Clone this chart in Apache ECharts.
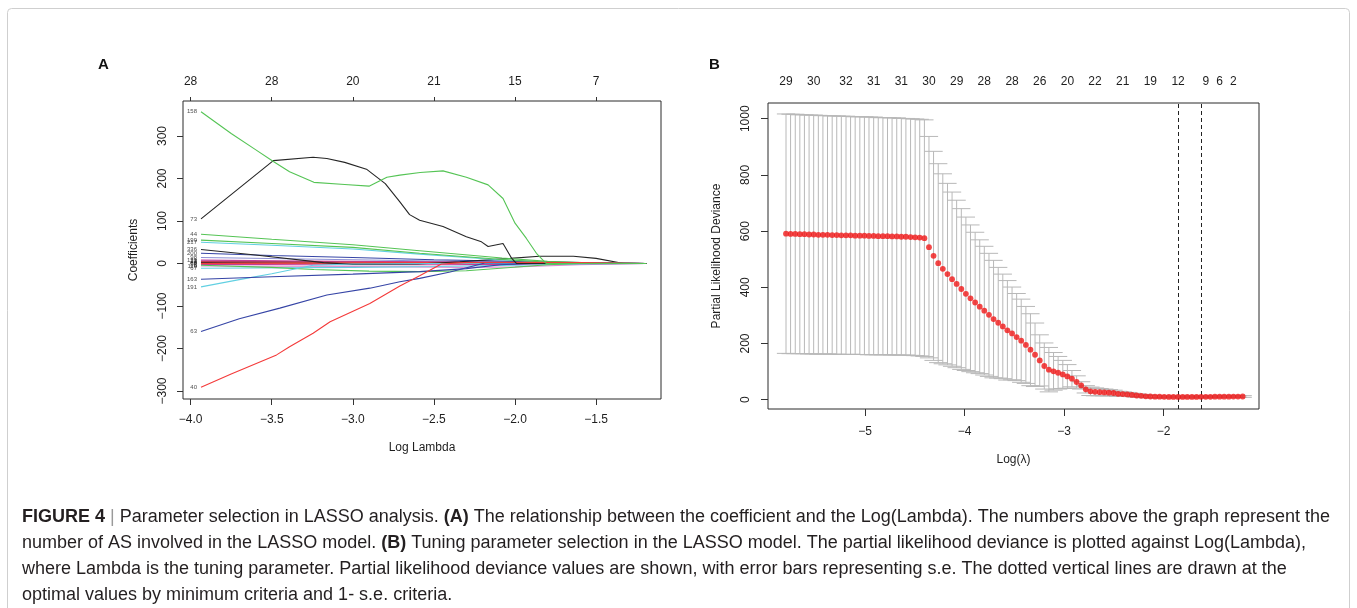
<!DOCTYPE html>
<html>
<head>
<meta charset="utf-8">
<script src="https://cdn.jsdelivr.net/npm/echarts@6/dist/echarts.min.js"></script>
<style>
html,body{margin:0;padding:0;background:#fff}
#chart{width:1357px;height:608px}
</style>
</head>
<body>
<div id="chart"></div>
<script>
// ---------- Panel A: LASSO coefficient paths vs log(lambda) ----------
const xTicksA = [-4, -3.5, -3, -2.5, -2, -1.5];
const yTicksA = [-300, -200, -100, 0, 100, 200, 300];
const dfTicksA = [-4, -3.5, -3, -2.5, -2, -1.5];
const dfLabelsA = ['28', '28', '20', '21', '15', '7'];

// coefficient paths, [log lambda, coefficient]
const coef158 = [[-3.936,357],[-3.75,306],[-3.6,268],[-3.49,240],[-3.39,216],[-3.24,191],[-3.05,186],[-2.9,182],[-2.79,203],[-2.71,208],[-2.585,214],[-2.444,218],[-2.3,203],[-2.166,185],[-2.074,153],[-2.0,95],[-1.93,59],[-1.868,24],[-1.807,0],[-1.19,0]];
const coef73 = [[-3.936,105],[-3.49,242],[-3.245,250],[-3.16,247],[-3.05,238],[-2.916,222],[-2.8,188],[-2.71,145],[-2.65,115],[-2.588,102],[-2.444,87],[-2.30,63],[-2.207,51],[-2.166,40],[-2.074,47],[-2.02,12],[-1.99,0],[-1.19,0]];
const coef40 = [[-3.936,-291],[-3.75,-260],[-3.47,-215],[-3.39,-196],[-3.245,-164],[-3.14,-137],[-2.895,-94],[-2.71,-53],[-2.588,-29],[-2.454,-1],[-2.3,2],[-2.0,3],[-1.6,2],[-1.19,0]];
const coef63 = [[-3.936,-160],[-3.7,-130],[-3.45,-105],[-3.16,-74],[-2.895,-58],[-2.71,-43],[-2.588,-35],[-2.4,-20],[-2.18,2],[-1.6,1],[-1.19,0]];
const coef163 = [[-3.936,-37],[-3.5,-31],[-3.0,-25],[-2.588,-19],[-2.3,-12],[-2.09,-3],[-1.9,0],[-1.19,0]];
const coef191 = [[-3.936,-55],[-3.7,-38],[-3.5,-24],[-3.245,-4],[-3.0,-1],[-2.5,0],[-1.19,0]];
const coef44 = [[-3.936,69],[-3.5,57],[-3.0,44],[-2.588,30],[-2.08,13],[-1.8,5],[-1.5,1],[-1.19,0]];
const coef199 = [[-3.936,55],[-3.5,47],[-3.0,38],[-2.588,24],[-2.1,10],[-1.8,3],[-1.19,0]];
const coef217 = [[-3.936,50],[-3.5,43],[-3.0,34],[-2.588,22],[-2.1,9],[-1.7,2],[-1.19,0]];
const coef336 = [[-3.936,33],[-3.6,20],[-3.18,2],[-3.0,-2],[-2.6,-1],[-2.34,4],[-2.03,12],[-1.85,17],[-1.64,17],[-1.5,12],[-1.33,0],[-1.19,0]];
const coef200 = [[-3.936,24],[-3.5,19],[-3.0,14],[-2.5,9],[-2.0,5],[-1.6,2],[-1.19,0]];
const coef98 = [[-3.936,14],[-3.0,9],[-2.5,6],[-2.0,3],[-1.5,1],[-1.19,0]];
const coef121 = [[-3.936,8],[-3.3,6],[-2.6,4],[-2.0,2],[-1.5,1],[-1.19,0]];
const coef27 = [[-3.936,5],[-3.0,4],[-2.0,2],[-1.19,0]];
const coef12 = [[-3.936,4],[-3.0,3],[-2.2,2],[-1.5,1],[-1.19,0]];
const coef9 = [[-3.936,2],[-3.0,1],[-2.0,1],[-1.19,0]];
const coef88 = [[-3.936,0],[-3.0,1],[-2.4,2],[-1.8,1],[-1.19,0]];
const coef52 = [[-3.936,-2],[-3.2,-3],[-2.5,-3],[-2.0,-2],[-1.19,0]];
const coef5 = [[-3.936,-4],[-3.5,-9],[-3.24,-14],[-2.9,-18],[-2.588,-19],[-2.3,-17],[-2.09,-11],[-1.8,-3],[-1.6,0],[-1.19,0]];
const coef110 = [[-3.936,-6],[-3.0,-7],[-2.3,-9],[-2.0,-8],[-1.6,-3],[-1.19,0]];
const coef67 = [[-3.936,-11],[-3.0,-9],[-2.5,-7],[-2.0,-4],[-1.6,-1],[-1.19,0]];

const BLACK = '#262626', RED = '#f43a3a', GREEN = '#55c455', NAVY = '#3645a6',
      CYAN = '#62d0e2', MAGENTA = '#c63a98', LAVENDER = '#8d90d4', PINK = '#e08ad0';

const pathsA = [
  ['98', LAVENDER, coef98], ['27', NAVY, coef27], ['9', BLACK, coef9],
  ['110', PINK, coef110], ['52', MAGENTA, coef52], ['121', MAGENTA, coef121],
  ['88', RED, coef88], ['12', RED, coef12], ['67', CYAN, coef67], ['5', GREEN, coef5],
  ['200', NAVY, coef200], ['336', BLACK, coef336], ['217', CYAN, coef217],
  ['199', GREEN, coef199], ['44', GREEN, coef44], ['191', CYAN, coef191],
  ['163', NAVY, coef163], ['63', NAVY, coef63], ['40', RED, coef40],
  ['73', BLACK, coef73], ['158', GREEN, coef158]
];

// ---------- Panel B: cross-validated partial likelihood deviance ----------
const logLambdaB = [-5.794,-5.748,-5.701,-5.655,-5.609,-5.562,-5.516,-5.469,-5.423,-5.377,
  -5.330,-5.284,-5.238,-5.191,-5.145,-5.099,-5.052,-5.006,-4.960,-4.913,
  -4.867,-4.820,-4.774,-4.728,-4.681,-4.635,-4.589,-4.542,-4.496,-4.450,
  -4.403,-4.357,-4.311,-4.264,-4.218,-4.171,-4.125,-4.079,-4.032,-3.986,
  -3.940,-3.893,-3.847,-3.801,-3.754,-3.708,-3.661,-3.615,-3.569,-3.522,
  -3.476,-3.430,-3.383,-3.337,-3.291,-3.244,-3.198,-3.152,-3.105,-3.059,
  -3.012,-2.966,-2.920,-2.873,-2.827,-2.781,-2.734,-2.688,-2.642,-2.595,
  -2.549,-2.502,-2.456,-2.410,-2.363,-2.317,-2.271,-2.224,-2.178,-2.132,
  -2.085,-2.039,-1.993,-1.946,-1.900,-1.853,-1.807,-1.761,-1.714,-1.668,
  -1.622,-1.575,-1.529,-1.483,-1.436,-1.390,-1.343,-1.297,-1.251,-1.204];
const cvmB = [591,590,590,589,589,588,588,587,587,587,
  586,586,585,585,585,584,584,584,583,583,
  582,582,582,581,581,580,580,579,578,577,
  575,543,512,486,466,447,429,412,394,377,
  361,346,331,317,302,287,274,261,247,236,
  223,210,195,178,160,140,120,107,101,96,
  90,83,75,63,51,37,30,28,27,26,
  25,24,21,20,19,17,15,14,12,11.5,
  11,11,10.5,10,10,9.8,10,10,10,10,
  10.3,10.5,10.5,10.7,11,11,11,11.2,11.3,11.5];
const cvsdB = [426,426,426,425,425,425,425,425,424,424,
  424,424,424,424,423,423,423,423,423,423,
  422,422,422,422,422,421,421,421,421,421,
  421,394,372,354,338,323,310,298,286,273,
  261,250,238,229,219,209,197,186,177,165,
  155,148,137,128,113,91,82,79,67,58,
  50,42,29,22,13,13,15,14,13,12,
  11,10,9,8,7,6,6,5,5,4,
  4,4,3,3,3,3,3,3,3,3,
  3,3,3,3,3,3,3,3,3,3];
const nzIdxB = [0,6,13,19,25,31,37,43,49,55,61,67,73,79,85,91,94,97];
const nzLabelsB = ['29','30','32','31','31','30','29','28','28','26','20','22','21','19','12','9','6','2'];
const lambdaMinB = -1.853;
const lambda1seB = -1.622;
const xTicksB = [-5, -4, -3, -2];
const yTicksB = [0, 200, 400, 600, 800, 1000];
const capWidthB = 0.0918;

// ---------- chart ----------
const FONT = '"Liberation Sans", Arial, Helvetica, sans-serif';
const TXT = '#1e1e1e';
const signed = (v, d) => (v < 0 ? '\u2212' : '') + Math.abs(v).toFixed(d);

const chart = echarts.init(document.getElementById('chart'), null, {renderer: 'canvas'});

function valueAxis(extra) {
  return Object.assign({
    type: 'value', scale: true,
    axisLine: {show: false, onZero: false},
    splitLine: {show: false},
    axisTick: {show: true, length: 6, lineStyle: {color: '#333', width: 1}},
    axisLabel: {fontFamily: FONT, fontSize: 12, color: TXT},
    nameTextStyle: {fontFamily: FONT, fontSize: 12, color: TXT},
    nameLocation: 'middle'
  }, extra);
}

const seriesA = pathsA.map(([name, color, pts]) => ({
  type: 'line', name, xAxisIndex: 0, yAxisIndex: 0,
  data: pts, showSymbol: false, symbol: 'none', silent: true,
  lineStyle: {color, width: 1.1}, animation: false, clip: true
}));
seriesA.push({
  type: 'scatter', xAxisIndex: 0, yAxisIndex: 0, symbolSize: 0, silent: true,
  data: pathsA.map(([name, , pts]) => ({name, value: pts[0]})),
  label: {show: true, position: 'left', distance: 4, formatter: '{b}',
          fontFamily: FONT, fontSize: 6, color: '#222'},
  animation: false
});

const seriesB = [
  {
    type: 'custom', xAxisIndex: 2, yAxisIndex: 1, silent: true, animation: false,
    data: logLambdaB.map((x, i) => [x, cvmB[i] - cvsdB[i], cvmB[i] + cvsdB[i]]),
    encode: {x: 0, y: [1, 2]},
    renderItem: (params, api) => {
      const x = api.value(0), lo = api.value(1), hi = api.value(2);
      const pLo = api.coord([x, lo]), pHi = api.coord([x, hi]);
      const a = api.coord([x - capWidthB, hi]), b = api.coord([x + capWidthB, hi]);
      const c = api.coord([x - capWidthB, lo]), d = api.coord([x + capWidthB, lo]);
      const st = {stroke: '#b8b8b8', lineWidth: 1};
      return {type: 'group', children: [
        {type: 'line', shape: {x1: pLo[0], y1: pLo[1], x2: pHi[0], y2: pHi[1]}, style: st},
        {type: 'line', shape: {x1: a[0], y1: a[1], x2: b[0], y2: b[1]}, style: st},
        {type: 'line', shape: {x1: c[0], y1: c[1], x2: d[0], y2: d[1]}, style: st}
      ]};
    }
  },
  {
    type: 'scatter', xAxisIndex: 2, yAxisIndex: 1, silent: true, animation: false,
    data: logLambdaB.map((x, i) => [x, cvmB[i]]),
    symbolSize: 5.8, itemStyle: {color: '#f01818'}, z: 5,
    markLine: {
      silent: true, symbol: 'none', animation: false,
      label: {show: false},
      lineStyle: {color: '#222', width: 1, type: [4, 3]},
      data: [{xAxis: lambdaMinB}, {xAxis: lambda1seB}]
    }
  }
];

const captionLines = [
  '{b|FIGURE 4} {bar||} Parameter selection in LASSO analysis. {b|(A)} The relationship between the coefficient and the Log(Lambda). The numbers above the graph represent the',
  'number of AS involved in the LASSO model. {b|(B)} Tuning parameter selection in the LASSO model. The partial likelihood deviance is plotted against Log(Lambda),',
  'where Lambda is the tuning parameter. Partial likelihood deviance values are shown, with error bars representing s.e. The dotted vertical lines are drawn at the',
  'optimal values by minimum criteria and 1- s.e. criteria.'
];

const CAP_SIZE = 18;
const graphics = [
  {type: 'rect', silent: true, z: -1,
   shape: {x: 7.5, y: 8.5, width: 1342, height: 660, r: 4},
   style: {fill: 'none', stroke: '#cfcfcf', lineWidth: 1}},
  {type: 'text', left: 98, top: 57, silent: true,
   style: {text: 'A', font: 'bold 15px ' + FONT, fill: '#111'}},
  {type: 'text', left: 709, top: 57, silent: true,
   style: {text: 'B', font: 'bold 15px ' + FONT, fill: '#111'}}
];
captionLines.forEach((t, i) => {
  graphics.push({
    type: 'text', x: 22, y: 517 + i * 26, silent: true,
    style: {
      text: t, fontFamily: FONT, fontSize: CAP_SIZE, fill: '#231f20',
      verticalAlign: 'middle', align: 'left',
      rich: {
        b: {fontWeight: 'bold', fontFamily: FONT, fontSize: CAP_SIZE, fill: '#231f20'},
        bar: {fontFamily: FONT, fontSize: CAP_SIZE, fill: '#9a9a9a'}
      }
    }
  });
});

chart.setOption({
  animation: false,
  backgroundColor: '#ffffff',
  textStyle: {fontFamily: FONT},
  grid: [
    {left: 183, top: 101, width: 478, height: 298, show: true, borderColor: '#2a2a2a', borderWidth: 1, backgroundColor: 'transparent'},
    {left: 768, top: 103, width: 491, height: 306, show: true, borderColor: '#2a2a2a', borderWidth: 1, backgroundColor: 'transparent'}
  ],
  xAxis: [
    valueAxis({gridIndex: 0, position: 'bottom', min: -4.047, max: -1.10,
      axisTick: {show: true, length: 6, customValues: xTicksA, lineStyle: {color: '#333'}},
      axisLabel: {customValues: xTicksA, formatter: v => signed(v, 1), margin: 15, fontFamily: FONT, fontSize: 12, color: TXT},
      name: 'Log Lambda', nameGap: 43}),
    valueAxis({gridIndex: 0, position: 'top', min: -4.047, max: -1.10,
      axisTick: {show: true, length: 4, customValues: dfTicksA, lineStyle: {color: '#333'}},
      axisLabel: {customValues: dfTicksA, formatter: v => dfLabelsA[dfTicksA.indexOf(v)], margin: 13, fontFamily: FONT, fontSize: 12, color: TXT}}),
    valueAxis({gridIndex: 1, position: 'bottom', min: -5.975, max: -1.04,
      axisTick: {show: true, length: 7, customValues: xTicksB, lineStyle: {color: '#333'}},
      axisLabel: {customValues: xTicksB, formatter: v => signed(v, 0), margin: 17, fontFamily: FONT, fontSize: 12, color: TXT},
      name: 'Log(\u03bb)', nameGap: 45}),
    valueAxis({gridIndex: 1, position: 'top', min: -5.975, max: -1.04,
      axisTick: {show: false},
      axisLabel: {customValues: nzIdxB.map(i => logLambdaB[i]),
        formatter: v => nzLabelsB[nzIdxB.map(i => logLambdaB[i]).indexOf(v)],
        margin: 15, fontFamily: FONT, fontSize: 12, color: TXT}})
  ],
  yAxis: [
    valueAxis({gridIndex: 0, min: -318.8, max: 382.4,
      axisTick: {show: true, length: 6, customValues: yTicksA, lineStyle: {color: '#333'}},
      axisLabel: {customValues: yTicksA, formatter: v => signed(v, 0), rotate: 90, margin: 14, fontFamily: FONT, fontSize: 12, color: TXT},
      name: 'Coefficients', nameGap: 43}),
    valueAxis({gridIndex: 1, min: -33, max: 1056,
      axisTick: {show: true, length: 7, customValues: yTicksB, lineStyle: {color: '#333'}},
      axisLabel: {customValues: yTicksB, formatter: v => signed(v, 0), rotate: 90, margin: 16, fontFamily: FONT, fontSize: 12, color: TXT},
      name: 'Partial Likelihood Deviance', nameGap: 45})
  ],
  series: seriesA.concat(seriesB),
  graphic: graphics
});
</script>
</body>
</html>
